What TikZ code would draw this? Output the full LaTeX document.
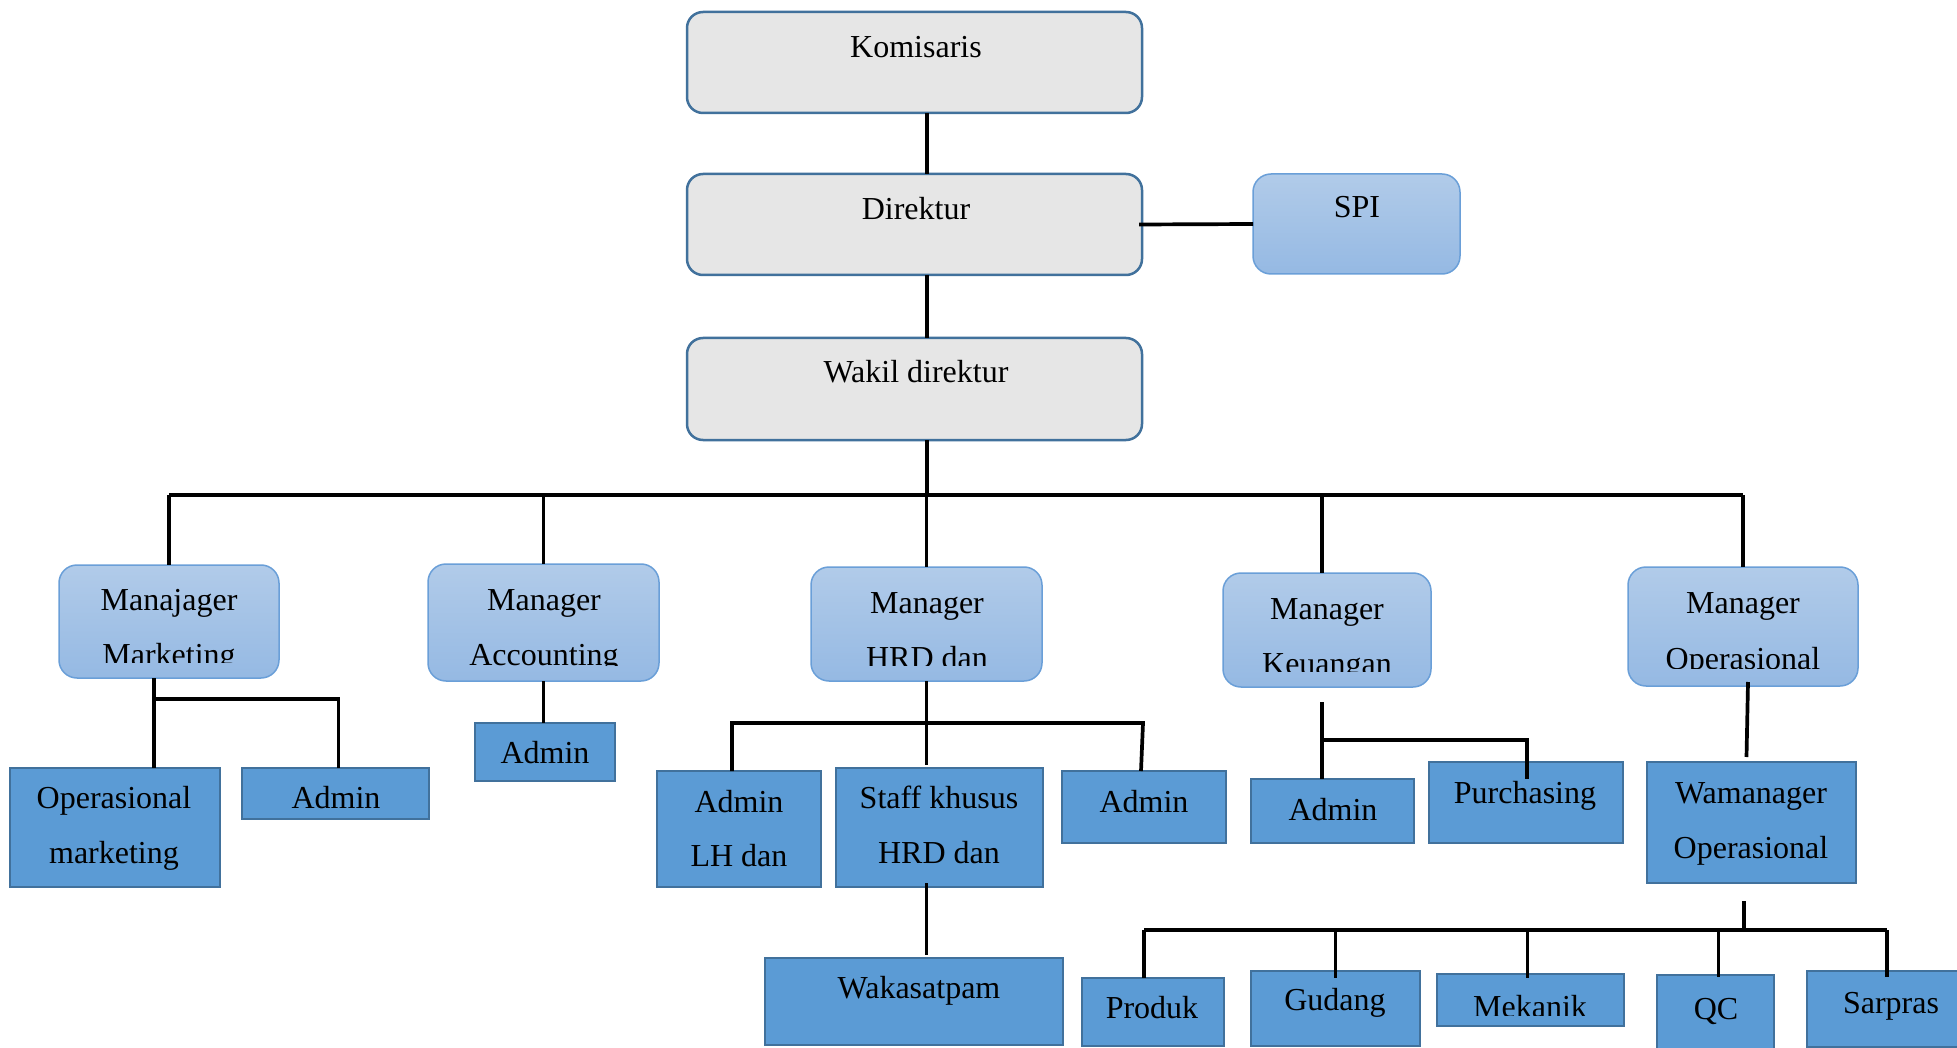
\documentclass[tikz,border=0pt]{standalone}
\usepackage{fontspec}
\setmainfont{Liberation Serif}
\usetikzlibrary{calc}
\definecolor{gfill}{HTML}{E6E6E6}
\definecolor{wborder}{HTML}{41719C}
\definecolor{ltop}{HTML}{B1CBE9}
\definecolor{lbot}{HTML}{95B9E3}
\definecolor{lborder}{HTML}{6A9FD8}
\definecolor{dfill}{HTML}{5B9BD5}
\tikzset{
 graybox/.style={draw=wborder, line width=2.5pt, fill=gfill, rounded corners=16pt, inner sep=0pt, outer sep=0pt},
 lightbox/.style={draw=lborder, line width=1.5pt, top color=ltop, bottom color=lbot, rounded corners=18pt, inner sep=0pt, outer sep=0pt},
 darkbox/.style={draw=wborder, line width=2.5pt, fill=dfill, inner sep=0pt, outer sep=0pt},
 conn/.style={line width=3.7pt, black},
 txt/.style={inner sep=0pt, outer sep=0pt, anchor=base, font=\fontsize{32}{38}\selectfont},
}
\newcommand\mkbox[6]{\node[#1, anchor=north west, minimum width={#5-#3}, minimum height={#6-#4}] (#2) at (#3,#4) {};}
\begin{document}
\begin{tikzpicture}[x=1pt,y=-1pt]
\clip (0,0) rectangle (1957,1048);
\fill[white] (0,0) rectangle (1957,1048);
% top level
\mkbox{graybox}{kom}{687}{12}{1142}{113}
\mkbox{graybox}{dir}{687}{174}{1142}{275}
\mkbox{graybox}{wak}{687}{338}{1142}{440}
\mkbox{lightbox}{spi}{1253}{174}{1460}{274}
\node[txt] (komT) at (916,58) {Komisaris};
\node[txt] (dirT) at (916,220) {Direktur};
\node[txt] (wakT) at (916,383) {Wakil direktur};
\node[txt] (spiT) at (1357,218) {SPI};
% managers
\mkbox{lightbox}{mk}{59}{565}{279}{678}
\mkbox{lightbox}{acc}{428}{564}{659}{681}
\mkbox{lightbox}{hrd}{811}{567}{1042}{681}
\mkbox{lightbox}{keu}{1223}{573}{1431}{687}
\mkbox{lightbox}{mo}{1628}{567}{1858}{686}
\node[txt] (mkT) at (169,610) {Manajager};
\node[txt] (accT) at (544,610) {Manager};
\node[txt] (hrdT) at (927,613) {Manager};
\node[txt] (keuT) at (1327,619) {Manager};
\node[txt] (moT) at (1743,613) {Manager};
\begin{scope}\clip (59,600) rectangle (279,662);
\node[txt] (mkT2) at (169,665) {Marketing};\end{scope}
\begin{scope}\clip (428,600) rectangle (659,665);
\node[txt] (accT2) at (544,665) {Accounting};\end{scope}
\begin{scope}\clip (811,600) rectangle (1042,665);
\node[txt] (hrdT2) at (927,668) {HRD dan};\end{scope}
\begin{scope}\clip (1223,600) rectangle (1431,671);
\node[txt] (keuT2) at (1327,674) {Keuangan};\end{scope}
\begin{scope}\clip (1628,600) rectangle (1858,668);
\node[txt] (moT2) at (1743,669) {Operasional};\end{scope}
% staff level
\mkbox{darkbox}{opm}{10}{768}{220}{887}
\mkbox{darkbox}{adm1}{242}{768}{429}{819}
\mkbox{darkbox}{adm2}{475}{723}{615}{781}
\mkbox{darkbox}{lh}{657}{771}{821}{887}
\mkbox{darkbox}{staff}{836}{768}{1043}{887}
\mkbox{darkbox}{adm3}{1062}{771}{1226}{843}
\mkbox{darkbox}{adm4}{1251}{779}{1414}{843}
\mkbox{darkbox}{pur}{1429}{762}{1623}{843}
\mkbox{darkbox}{wam}{1647}{762}{1856}{883}
\node[txt] (opmT) at (114,808) {Operasional};
\node[txt] (opmT2) at (114,863) {marketing};
\node[txt] (adm1T) at (336,808) {Admin};
\node[txt] (adm2T) at (545,763) {Admin};
\node[txt] (lhT) at (739,812) {Admin};
\node[txt] (lhT2) at (739,866) {LH dan};
\node[txt] (staffT) at (939,808) {Staff khusus};
\node[txt] (staffT2) at (939,863) {HRD dan};
\node[txt] (adm3T) at (1144,812) {Admin};
\node[txt] (adm4T) at (1333,820) {Admin};
\node[txt] (purT) at (1525,803) {Purchasing};
\node[txt] (wamT) at (1751,803) {Wamanager};
\node[txt] (wamT2) at (1751,858) {Operasional};
% bottom row
\mkbox{darkbox}{waka}{765}{958}{1063}{1045}
\mkbox{darkbox}{prod}{1082}{978}{1224}{1046}
\mkbox{darkbox}{gud}{1251}{971}{1420}{1046}
\mkbox{darkbox}{mek}{1437}{974}{1624}{1026}
\mkbox{darkbox}{qc}{1657}{975}{1774}{1070}
\mkbox{darkbox}{sar}{1807}{971}{1985}{1047}
\node[txt] (wakaT) at (919,998) {Wakasatpam};
\node[txt] (prodT) at (1152,1018) {Produk};
\node[txt] (gudT) at (1335,1010) {Gudang};
\begin{scope}\clip (1437,974) rectangle (1624,1015);
\node[txt] (mekT) at (1530,1017) {Mekanik};\end{scope}
\node[txt] (qcT) at (1716,1019) {QC};
\node[txt] (sarT) at (1891,1013) {Sarpras};
% connectors top
\coordinate (bus) at (927,495);
\draw[conn] (bus |- kom.south) -- (bus |- dir.north);
\draw[conn] (bus |- dir.south) -- (bus |- wak.north);
\draw[conn] ($(dir.east)+(-3,0)$) -- (spi.west);
\draw[conn] (bus |- wak.south) -- (bus);
\draw[conn] (mk.north |- bus) -- (mo.north |- bus);
\draw[conn] (mk.north |- bus) -- (mk.north);
\draw[conn] (acc.north |- bus) -- (acc.north);
\draw[conn] (hrd.north |- bus) -- (hrd.north);
\draw[conn] ($(keu.north |- bus)+(-5,0)$) -- ($(keu.north)+(-5,0)$);
\draw[conn] (mo.north |- bus) -- (mo.north);
% marketing
\coordinate (mkJ) at (154,699);
\draw[conn] (mk.south -| mkJ) -- (mkJ) -- (opm.north -| mkJ);
\draw[conn] (mkJ) -| ($(adm1.north)+(3,0)$);
% accounting
\draw[conn] (acc.south) -- (acc.south |- adm2.north);
% hrd
\coordinate (hL) at (732,723);
\coordinate (hR) at (1143,723);
\draw[conn] (hrd.south) -- ($(hrd.south |- staff.north)+(0,-3)$);
\draw[conn] (lh.north -| hL) -- (hL) -- (hR) -- ($(adm3.north)+(-3,0)$);
\draw[conn] ($(hrd.south |- staff.south)+(0,-4)$) -- ($(hrd.south |- waka.north)+(0,-3)$);
% keuangan
\coordinate (kS) at (1322,702);
\coordinate (kJ) at (1322,740);
\draw[conn] (kS) -- (adm4.north -| kS);
\draw[conn] (kJ) -| ($(pur.north)+(1,17)$);
% operasional
\draw[conn] ($(mo.south)+(5,-4)$) -- ($(wam.north)+(-5,-5)$);
\coordinate (oL) at (1144,930);
\coordinate (oR) at (1887,930);
\coordinate (oW) at (1744,930);
\draw[conn] ($(wam.south -| oW)+(0,18)$) -- (oW);
\draw[conn] (oL) -- (oR);
\draw[conn] (oL) -- (prod.north -| oL);
\draw[conn] (gud.north |- oL) -- ($(gud.north)+(0,7)$);
\draw[conn] ($(mek.north |- oL)+(-3,0)$) -- ($(mek.north)+(-3,4)$);
\draw[conn] ($(qc.north |- oL)+(3,0)$) -- ($(qc.north)+(3,2)$);
\draw[conn] (oR) -- ($(oR |- sar.north)+(0,6)$);
\end{tikzpicture}
\end{document}
